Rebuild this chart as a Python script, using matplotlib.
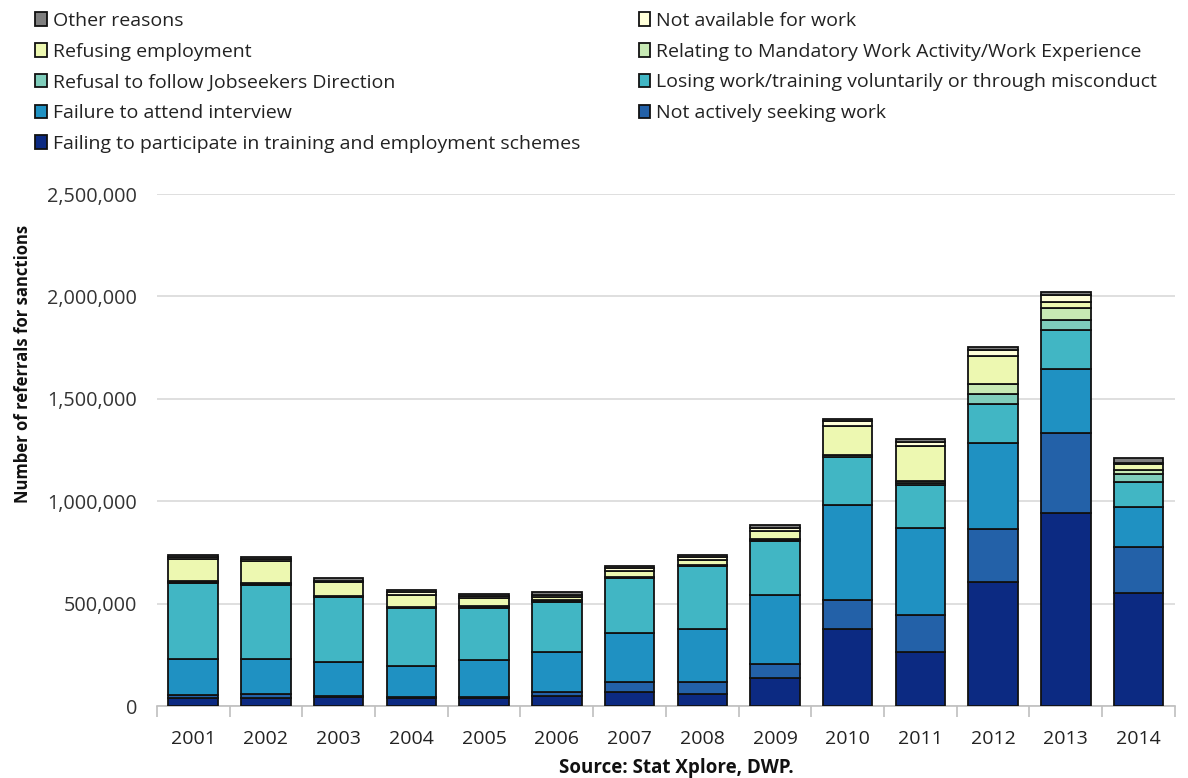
import matplotlib
matplotlib.use("Agg")
import matplotlib.pyplot as plt
from matplotlib.ticker import FuncFormatter, MultipleLocator
import numpy as np

years = ["2001", "2002", "2003", "2004", "2005", "2006", "2007",
         "2008", "2009", "2010", "2011", "2012", "2013", "2014"]

# Referrals for sanctions by reason (stacked bottom to top)
failing_schemes = [40000, 40000, 45000, 40000, 37000, 49000, 67000,
                   58000, 135000, 378000, 263000, 605000, 943000, 553000]
not_seeking = [14000, 17000, 4000, 4000, 5000, 18000, 51000,
               60000, 68000, 141000, 183000, 258000, 392000, 223000]
failure_interview = [178000, 173000, 164000, 151000, 182000, 197000, 239000,
                     260000, 339000, 461000, 422000, 421000, 312000, 198000]
losing_work = [370000, 359000, 318000, 284000, 255000, 246000, 268000,
               304000, 266000, 237000, 209000, 193000, 187000, 121000]
jobseekers_direction = [5000, 6000, 4000, 4000, 5000, 4000, 4000,
                        4000, 4000, 8000, 12000, 45000, 53000, 38000]
mandatory_work = [3000, 4000, 2000, 2000, 3000, 3000, 3000,
                  2000, 2000, 2000, 11000, 49000, 57000, 19000]
refusing_employment = [106000, 107000, 68000, 59000, 42000, 14000, 29000,
                       26000, 39000, 142000, 169000, 138000, 29000, 28000]
not_available = [14000, 11000, 8000, 11000, 6000, 12000, 15000,
                 16000, 17000, 24000, 22000, 29000, 36000, 9000]
other_reasons = [8000, 12000, 14000, 10000, 12000, 13000, 8000,
                 10000, 13000, 10000, 15000, 14000, 11000, 20000]

series = [
    ("Failing to participate in training and employment schemes", failing_schemes, "#0c2a82"),
    ("Not actively seeking work", not_seeking, "#2361a8"),
    ("Failure to attend interview", failure_interview, "#1f91c2"),
    ("Losing work/training voluntarily or through misconduct", losing_work, "#41b6c4"),
    ("Refusal to follow Jobseekers Direction", jobseekers_direction, "#7fcdbb"),
    ("Relating to Mandatory Work Activity/Work Experience", mandatory_work, "#c7e9b4"),
    ("Refusing employment", refusing_employment, "#edf8b1"),
    ("Not available for work", not_available, "#ffffd9"),
    ("Other reasons", other_reasons, "#7f7f7f"),
]

plt.rcParams["font.family"] = ["Open Sans", "DejaVu Sans"]

fig = plt.figure(figsize=(11.88, 7.78), dpi=100)
ax = fig.add_axes([0.132, 0.0925, 0.857, 0.658])

x = np.arange(len(years))
bottom = np.zeros(len(years))
handles = {}
for name, vals, col in series:
    v = np.array(vals, dtype=float)
    bars = ax.bar(x, v, width=0.68, bottom=bottom, color=col,
                  edgecolor="#111111", linewidth=1.3, label=name, zorder=3)
    handles[name] = bars
    bottom += v

ax.set_xlim(-0.5, len(years) - 0.5)
ax.set_ylim(0, 2500000)
ax.yaxis.set_major_locator(MultipleLocator(500000))
ax.yaxis.set_major_formatter(FuncFormatter(lambda v, p: f"{int(v):,}"))
ax.grid(axis="y", color="#d9d9d9", linewidth=1.2, zorder=0)
ax.set_axisbelow(True)

for s in ("top", "right", "left"):
    ax.spines[s].set_visible(False)
ax.spines["bottom"].set_color("#bfbfbf")
ax.spines["bottom"].set_linewidth(1.2)

ax.set_xticks(x)
ax.set_xticklabels(years)
ax.set_xticks(np.arange(-0.5, len(years)), minor=True)
ax.tick_params(axis="x", which="major", length=0, pad=17, labelsize=14, labelcolor="#222222")
ax.tick_params(axis="x", which="minor", length=8, color="#bfbfbf", width=1.2)
ax.tick_params(axis="y", length=0, pad=14, labelsize=14.3, labelcolor="#333333")

fig.text(0.019, 0.532, "Number of referrals for sanctions", rotation=90,
         ha="center", va="center", fontsize=12, fontweight="bold", color="#111111")
fig.text(0.569, 0.013, "Source: Stat Xplore, DWP.", ha="center", va="center",
         fontsize=13.5, fontweight="bold", color="#111111")

order = [
    "Other reasons",
    "Refusing employment",
    "Refusal to follow Jobseekers Direction",
    "Failure to attend interview",
    "Failing to participate in training and employment schemes",
    "Not available for work",
    "Relating to Mandatory Work Activity/Work Experience",
    "Losing work/training voluntarily or through misconduct",
    "Not actively seeking work",
]
leg = fig.legend([handles[n] for n in order], order, ncol=2, loc="upper left",
                 bbox_to_anchor=(0.02, 1.0), frameon=False, fontsize=14,
                 handlelength=0.6, handleheight=0.7, handletextpad=0.3,
                 columnspacing=3.0, labelspacing=0.66, borderaxespad=0.2)
for t in leg.get_texts():
    t.set_color("#222222")

fig.savefig("out.png", dpi=100)
